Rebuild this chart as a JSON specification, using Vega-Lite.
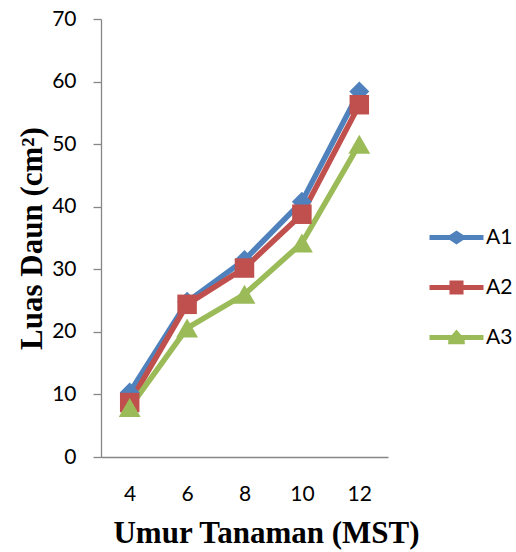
{
  "$schema": "https://vega.github.io/schema/vega-lite/v6.json",
  "width": 287,
  "height": 438,
  "autosize": "none",
  "padding": {"left": 101, "top": 19, "right": 128, "bottom": 95},
  "background": "white",
  "config": {"view": {"stroke": null}, "font": "Lato"},
  "data": {"values": [
    {"umur": "4", "series": "A1", "luas": 10.3},
    {"umur": "6", "series": "A1", "luas": 24.8},
    {"umur": "8", "series": "A1", "luas": 31.5},
    {"umur": "10", "series": "A1", "luas": 40.8},
    {"umur": "12", "series": "A1", "luas": 58.4},
    {"umur": "4", "series": "A2", "luas": 8.7},
    {"umur": "6", "series": "A2", "luas": 24.4},
    {"umur": "8", "series": "A2", "luas": 30.2},
    {"umur": "10", "series": "A2", "luas": 38.8},
    {"umur": "12", "series": "A2", "luas": 56.3},
    {"umur": "4", "series": "A3", "luas": 7.9},
    {"umur": "6", "series": "A3", "luas": 20.6},
    {"umur": "8", "series": "A3", "luas": 26.0},
    {"umur": "10", "series": "A3", "luas": 34.2},
    {"umur": "12", "series": "A3", "luas": 50.0}
  ]},
  "resolve": {"legend": {"color": "independent", "shape": "independent"}},
  "encoding": {
    "x": {
      "field": "umur", "type": "ordinal", "sort": ["4", "6", "8", "10", "12"],
      "scale": {"paddingInner": 0, "paddingOuter": 0},
      "axis": {
        "title": "Umur Tanaman (MST)", "titleFont": "Liberation Serif", "titleFontWeight": "bold",
        "titleFontSize": 31, "titleColor": "black", "titlePadding": 14, "titleX": 165,
        "labelAngle": 0, "labelFontSize": 21, "labelColor": "black", "labelPadding": 26,
        "ticks": false, "domainColor": "#868686", "domainWidth": 1.3
      }
    },
    "y": {
      "field": "luas", "type": "quantitative",
      "scale": {"domain": [0, 70], "nice": false},
      "axis": {
        "title": "Luas Daun (cm²)", "titleFont": "Liberation Serif", "titleFontWeight": "bold",
        "titleFontSize": 31, "titleColor": "black", "titlePadding": 3,
        "values": [0, 10, 20, 30, 40, 50, 60, 70], "grid": false,
        "labelFontSize": 21, "labelColor": "black", "labelPadding": 17,
        "tickSize": 8, "tickColor": "#868686", "tickWidth": 1.3,
        "domainColor": "#868686", "domainWidth": 1.3
      }
    },
    "color": {
      "field": "series", "type": "nominal",
      "scale": {"domain": ["A1", "A2", "A3"], "range": ["#4F81BD", "#C0504D", "#9BBB59"]},
      "legend": null
    }
  },
  "layer": [
    {"mark": {"type": "line", "strokeWidth": 5.5}},
    {
      "transform": [{"filter": "datum.series == 'A1'"}],
      "mark": {"type": "point", "filled": true, "opacity": 1, "shape": "M0,-1L1,0L0,1L-1,0Z", "size": 400}
    },
    {
      "transform": [{"filter": "datum.series == 'A2'"}],
      "mark": {"type": "point", "filled": true, "opacity": 1, "shape": "square", "size": 380}
    },
    {
      "transform": [{"filter": "datum.series == 'A3'"}],
      "mark": {"type": "point", "filled": true, "opacity": 1, "shape": "triangle-up", "size": 480}
    },
    {
      "transform": [{"filter": "datum.luas < 0"}],
      "mark": {"type": "point", "filled": true, "opacity": 1},
      "encoding": {
        "color": {
          "field": "series", "type": "nominal",
          "legend": {
            "orient": "none", "legendX": 341, "legendY": 204, "title": null,
            "symbolSize": 729, "rowPadding": 25, "labelOffset": 15,
            "labelFontSize": 21, "labelColor": "black", "symbolOpacity": 1
          }
        },
        "shape": {
          "field": "series", "type": "nominal",
          "scale": {"domain": ["A1", "A2", "A3"], "range": [
            "M-2,-0.18H-0.5L0,-0.52L0.5,-0.18H2V0.18H0.5L0,0.52L-0.5,0.18H-2Z",
            "M-2,-0.18H-0.52V-0.52H0.52V-0.18H2V0.18H0.52V0.52H-0.52V0.18H-2Z",
            "M-2,-0.18H-0.35L0,-0.6L0.35,-0.18H2V0.18H0.6L0.62,0.5H-0.62L-0.6,0.18H-2Z"
          ]},
          "legend": {
            "orient": "none", "legendX": 341, "legendY": 204, "title": null,
            "symbolSize": 729, "rowPadding": 25, "labelOffset": 15,
            "labelFontSize": 21, "labelColor": "black", "symbolOpacity": 1
          }
        }
      }
    }
  ]
}
